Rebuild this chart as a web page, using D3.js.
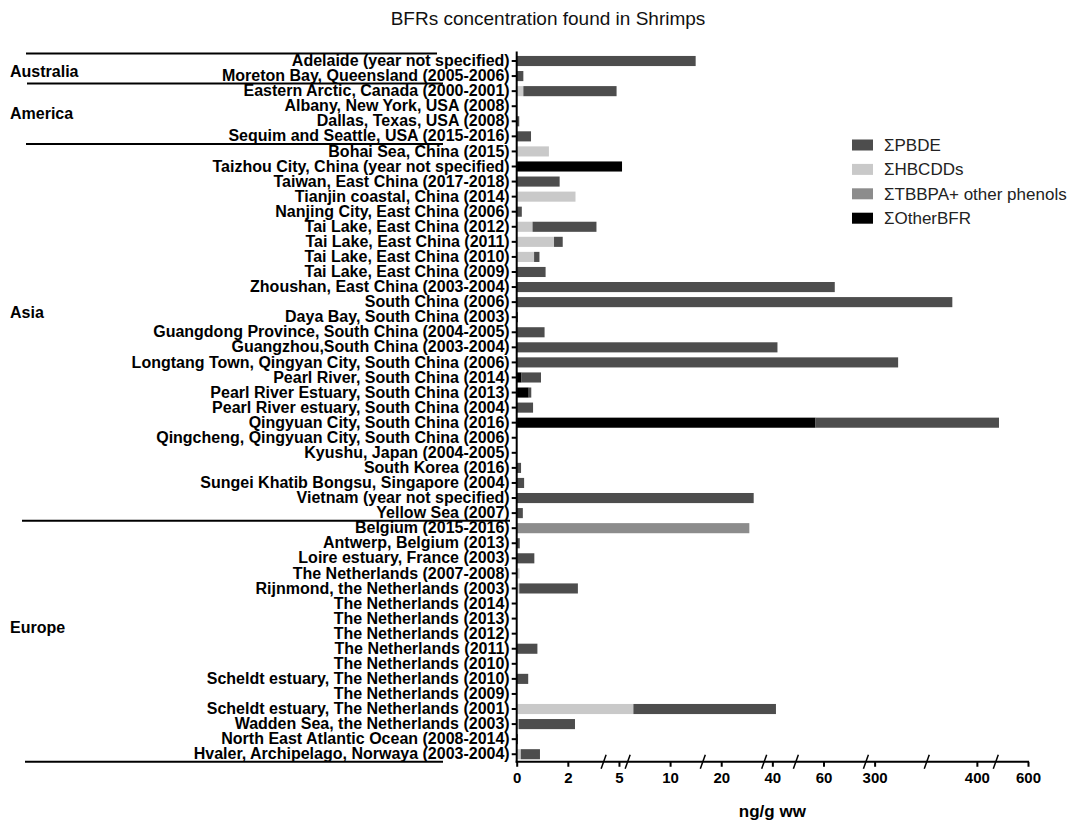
<!DOCTYPE html>
<html>
<head>
<meta charset="utf-8">
<script src="https://cdn.jsdelivr.net/npm/d3@7"></script>
<style>
  body { margin: 0; background: #fff; }
  svg { font-family: "Liberation Sans", Arial, sans-serif; }
</style>
</head>
<body>
<div id="chart"></div>
<script>
// sampling sites, top to bottom
const categories = [
  'Adelaide (year not specified)',
  'Moreton Bay, Queensland (2005-2006)',
  'Eastern Arctic, Canada (2000-2001)',
  'Albany, New York, USA (2008)',
  'Dallas, Texas, USA (2008)',
  'Sequim and Seattle, USA (2015-2016)',
  'Bohai Sea, China (2015)',
  'Taizhou City, China (year not specified)',
  'Taiwan, East China (2017-2018)',
  'Tianjin coastal, China (2014)',
  'Nanjing City, East China (2006)',
  'Tai Lake, East China (2012)',
  'Tai Lake, East China (2011)',
  'Tai Lake, East China (2010)',
  'Tai Lake, East China (2009)',
  'Zhoushan, East China (2003-2004)',
  'South China (2006)',
  'Daya Bay, South China (2003)',
  'Guangdong Province, South China (2004-2005)',
  'Guangzhou,South China (2003-2004)',
  'Longtang Town, Qingyan City, South China (2006)',
  'Pearl River, South China (2014)',
  'Pearl River Estuary, South China (2013)',
  'Pearl River estuary, South China (2004)',
  'Qingyuan City, South China (2016)',
  'Qingcheng, Qingyuan City, South China (2006)',
  'Kyushu, Japan (2004-2005)',
  'South Korea (2016)',
  'Sungei Khatib Bongsu, Singapore (2004)',
  'Vietnam (year not specified)',
  'Yellow Sea (2007)',
  'Belgium (2015-2016)',
  'Antwerp, Belgium (2013)',
  'Loire estuary, France (2003)',
  'The Netherlands (2007-2008)',
  'Rijnmond, the Netherlands (2003)',
  'The Netherlands (2014)',
  'The Netherlands (2013)',
  'The Netherlands (2012)',
  'The Netherlands (2011)',
  'The Netherlands (2010)',
  'Scheldt estuary, The Netherlands (2010)',
  'The Netherlands (2009)',
  'Scheldt estuary, The Netherlands (2001)',
  'Wadden Sea, the Netherlands (2003)',
  'North East Atlantic Ocean (2008-2014)',
  'Hvaler, Archipelago, Norwaya (2003-2004)'
];

const groupNames = ['Australia', 'America', 'Asia', 'Europe'];
const groupSizes = [2, 4, 25, 16];

// ng/g ww
const pbde = [15, 0.26, 4.6, 0, 0.1, 0.56, 0, 0, 1.68, 0, 0.2, 3.06, 0.34, 0.21, 1.13,
  113, 376, 0.05, 1.09, 42, 323, 0.76, 0.1, 0.64, 429.6, 0, 0, 0.17, 0.29, 32.7, 0.24,
  0, 0.12, 0.69, 0, 2.49, 0, 0, 0, 0.81, 0, 0.45, 0, 35, 2.34, 0.05, 0.75];
const hbcdd = [0, 0, 0.26, 0, 0, 0, 1.26, 0, 0, 2.45, 0, 0.62, 1.46, 0.68, 0,
  0, 0, 0, 0, 0, 0, 0, 0, 0, 0, 0, 0, 0, 0, 0, 0,
  0, 0, 0, 0.11, 0.1, 0, 0, 0, 0, 0, 0, 0, 6.41, 0.08, 0, 0.16];
const tbbpa = [0, 0, 0, 0, 0, 0, 0, 0, 0, 0, 0, 0, 0, 0, 0,
  0, 0, 0, 0, 0, 0, 0, 0, 0, 0, 0, 0, 0, 0, 0, 0,
  31, 0, 0, 0, 0, 0, 0, 0, 0, 0, 0, 0, 0, 0, 0, 0];
const otherBfr = [0, 0, 0, 0, 0, 0, 0, 5.3, 0, 0, 0, 0, 0, 0, 0,
  0, 0, 0, 0, 0, 0, 0.19, 0.47, 0, 56.9, 0, 0, 0, 0, 0, 0,
  0, 0, 0, 0, 0, 0, 0, 0, 0, 0, 0, 0, 0, 0, 0, 0];

const tickValues = [0, 2, 5, 10, 20, 40, 60, 300, 400, 600];

const seriesKeys = ['pbde', 'hbcdd', 'tbbpa', 'other'];
const seriesLabels = ['\u03a3PBDE', '\u03a3HBCDDs', '\u03a3TBBPA+ other phenols', '\u03a3OtherBFR'];
const colors = { pbde: '#4d4d4d', hbcdd: '#c9c9c9', tbbpa: '#8c8c8c', other: '#000000' };

const width = 1071, height = 820;
const x0 = 516.7, slotW = 51.13;
// broken axis: each tick sits in its own slot, 300-400 spans two
const tickSlots = [0, 1, 2, 3, 4, 5, 6, 7, 9, 10];
const breakSlots = [1.7, 2.17, 3.64, 4.84, 5.46, 6.83, 8.02, 9.37];
const topY = 53.47, bandStep = 15.07;
const axisY = topY + bandStep * categories.length;

const svg = d3.select('#chart').append('svg')
  .attr('width', width)
  .attr('height', height);

const x = d3.scaleLinear()
  .domain(tickValues)
  .range(tickSlots.map(s => x0 + s * slotW));

const y = d3.scaleBand()
  .domain(categories)
  .range([topY, axisY])
  .paddingInner(0.33)
  .paddingOuter(0.165);

const table = categories.map((c, i) => ({
  site: c, pbde: pbde[i], hbcdd: hbcdd[i], tbbpa: tbbpa[i], other: otherBfr[i]
}));

const stack = d3.stack().keys(['hbcdd', 'tbbpa', 'other', 'pbde'])(table);

svg.append('text')
  .attr('x', 548)
  .attr('y', 25)
  .attr('text-anchor', 'middle')
  .style('font-size', '19px')
  .style('fill', '#111')
  .text('BFRs concentration found in Shrimps');

// bars
svg.append('g').selectAll('g')
  .data(stack)
  .enter().append('g')
  .attr('fill', d => colors[d.key])
  .selectAll('rect')
  .data(d => d.filter(p => p[1] > p[0]))
  .enter().append('rect')
  .attr('x', d => x(d[0]))
  .attr('y', d => y(d.data.site))
  .attr('width', d => x(d[1]) - x(d[0]))
  .attr('height', y.bandwidth());

// y axis
const yAxis = svg.append('g')
  .attr('transform', `translate(${x0},0)`)
  .call(d3.axisLeft(y).tickSize(5).tickPadding(2));
yAxis.select('.domain').remove();
yAxis.selectAll('.tick line').attr('stroke', '#000').attr('stroke-width', 2);
yAxis.selectAll('.tick text')
  .style('font-size', '16px')
  .style('font-weight', 'bold')
  .style('fill', '#000');
svg.append('line')
  .attr('x1', x0).attr('x2', x0)
  .attr('y1', topY - 2).attr('y2', axisY + 1)
  .attr('stroke', '#000').attr('stroke-width', 2);

// x axis
const xAxis = svg.append('g')
  .attr('transform', `translate(0,${axisY})`)
  .call(d3.axisBottom(x).tickValues(tickValues).tickFormat(d3.format('d')).tickSize(5).tickPadding(6));
xAxis.select('.domain').remove();
xAxis.selectAll('.tick line').attr('stroke', '#000').attr('stroke-width', 2);
xAxis.selectAll('.tick text')
  .style('font-size', '15px')
  .style('font-weight', 'bold')
  .style('fill', '#000');
svg.append('line')
  .attr('x1', x0 - 1).attr('x2', x(600) + 1)
  .attr('y1', axisY).attr('y2', axisY)
  .attr('stroke', '#000').attr('stroke-width', 2);

svg.append('g').selectAll('line')
  .data(breakSlots)
  .enter().append('line')
  .attr('x1', d => x0 + d * slotW - 2.5)
  .attr('x2', d => x0 + d * slotW + 2.5)
  .attr('y1', axisY + 7)
  .attr('y2', axisY - 7)
  .attr('stroke', '#000')
  .attr('stroke-width', 1.5);

svg.append('text')
  .attr('x', (x0 + x(600)) / 2)
  .attr('y', 817)
  .attr('text-anchor', 'middle')
  .style('font-size', '17px')
  .style('font-weight', 'bold')
  .text('ng/g ww');

// region separators and names
const starts = [0];
groupSizes.forEach((n, i) => starts.push(starts[i] + n));
const sepX = [[26, 437], [27, 443], [26, 443], [22, 510], [25, 443]];
const nameRow = [0.7, 3.5, 16.7, 37.6];

svg.append('g').selectAll('line')
  .data(starts)
  .enter().append('line')
  .attr('x1', (d, i) => sepX[i][0])
  .attr('x2', (d, i) => sepX[i][1])
  .attr('y1', d => topY + d * bandStep)
  .attr('y2', d => topY + d * bandStep)
  .attr('stroke', '#000')
  .attr('stroke-width', 2);

svg.append('g').selectAll('text')
  .data(groupNames)
  .enter().append('text')
  .attr('x', 10)
  .attr('y', (d, i) => y(categories[0]) + y.bandwidth() / 2 + nameRow[i] * bandStep)
  .attr('dy', '0.35em')
  .style('font-size', '16px')
  .style('font-weight', 'bold')
  .text(d => d);

// legend
const legend = svg.append('g').attr('transform', 'translate(852,145)');
const item = legend.selectAll('g')
  .data(seriesKeys)
  .enter().append('g')
  .attr('transform', (d, i) => `translate(0,${i * 24.4})`);
item.append('rect')
  .attr('x', 0).attr('y', -5.5)
  .attr('width', 21).attr('height', 11)
  .attr('fill', d => colors[d]);
item.append('text')
  .attr('x', 32)
  .attr('dy', '0.35em')
  .style('font-size', '17px')
  .style('fill', '#222')
  .text((d, i) => seriesLabels[i]);
</script>
</body>
</html>
